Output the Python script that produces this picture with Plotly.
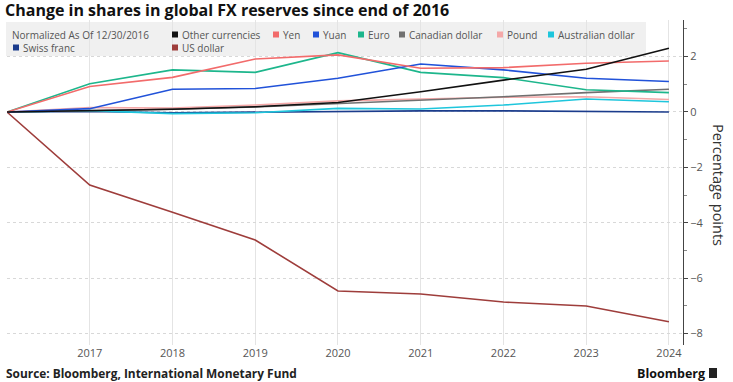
import plotly.graph_objects as go

years = [2016, 2017, 2018, 2019, 2020, 2021, 2022, 2023, 2024]

other_currencies = [0, 0.05, 0.10, 0.19, 0.34, 0.73, 1.15, 1.54, 2.30]
yen = [0, 0.92, 1.25, 1.91, 2.06, 1.58, 1.60, 1.76, 1.84]
yuan = [0, 0.12, 0.82, 0.85, 1.22, 1.73, 1.52, 1.22, 1.10]
euro = [0, 1.02, 1.52, 1.43, 2.14, 1.43, 1.24, 0.80, 0.70]
canadian_dollar = [0, 0.05, 0.10, 0.18, 0.30, 0.42, 0.55, 0.70, 0.82]
pound = [0, 0.16, 0.14, 0.25, 0.40, 0.46, 0.53, 0.55, 0.45]
australian_dollar = [0, 0.05, -0.06, -0.03, 0.13, 0.11, 0.25, 0.47, 0.37]
swiss_franc = [0, 0.02, -0.03, 0.0, 0.02, 0.04, 0.04, 0.03, 0.0]
us_dollar = [0, -2.64, -3.62, -4.62, -6.46, -6.57, -6.86, -7.00, -7.57]

series_names = ["Other currencies", "Yen", "Yuan", "Euro", "Canadian dollar",
                "Pound", "Australian dollar", "Swiss franc", "US dollar"]
series_values = [other_currencies, yen, yuan, euro, canadian_dollar,
                 pound, australian_dollar, swiss_franc, us_dollar]
series_colors = ["#111111", "#f26b6b", "#2152d9", "#1db68c", "#707070",
                 "#f4a8a8", "#1ec6dc", "#1b3c8c", "#9e3d3b"]

x_ticks = [2017, 2018, 2019, 2020, 2021, 2022, 2023, 2024]
y_ticks = [2, 0, -2, -4, -6, -8]

fig = go.Figure()
order = [8, 7, 6, 5, 4, 3, 2, 1, 0]
for i in order:
    fig.add_trace(go.Scatter(x=years, y=series_values[i], mode="lines",
                             name=series_names[i],
                             line=dict(color=series_colors[i], width=1.6),
                             showlegend=False, hoverinfo="skip"))

fig.update_layout(
    width=733, height=382,
    margin=dict(l=7, r=50, t=20, b=37, autoexpand=False),
    paper_bgcolor="white", plot_bgcolor="white",
    font=dict(family="Open Sans", color="#333"),
    showlegend=False,
)
fig.update_xaxes(range=[2016, 2024.17], tickvals=x_ticks,
                 ticktext=[str(v) for v in x_ticks],
                 showgrid=True, gridcolor="#e4e4e4", gridwidth=1,
                 zeroline=False, showline=False, ticks="",
                 tickfont=dict(size=11, color="#555"))
fig.update_yaxes(range=[-8.41, 3.32], side="right", tickvals=y_ticks,
                 showgrid=True, gridcolor="#d8d8d8", griddash="dot",
                 zeroline=False, showline=True, linecolor="#444", linewidth=1,
                 ticks="outside", ticklen=4, tickcolor="#444",
                 minor=dict(dtick=1, ticks="outside", ticklen=3, tickcolor="#888", showgrid=False),
                 tickfont=dict(size=11, color="#555"))


def px_x(x):
    return (x - 7) / 676


def px_y(y):
    return (345 - y) / 325


# y axis title (reads top to bottom)
fig.add_annotation(text="Percentage points", x=px_x(719), y=px_y(185),
                   xref="paper", yref="paper", xanchor="center", yanchor="middle",
                   textangle=90, showarrow=False, font=dict(size=14.5, color="#333"))

# legend background box
fig.add_shape(type="rect", xref="paper", yref="paper",
              x0=px_x(6), x1=px_x(646), y0=px_y(56), y1=px_y(22),
              fillcolor="#f0f0f0", line=dict(width=0), layer="below")

fig.add_annotation(text="Normalized As Of 12/30/2016", x=px_x(10), y=px_y(34.5),
                   xref="paper", yref="paper", xanchor="left", yanchor="middle",
                   showarrow=False, font=dict(size=10, color="#555"))

legend_pos = {
    "Other currencies": (172, 34.5), "Yen": (273, 34.5), "Yuan": (313, 34.5),
    "Euro": (358, 34.5), "Canadian dollar": (399, 34.5), "Pound": (497, 34.5),
    "Australian dollar": (548, 34.5), "Swiss franc": (13, 47.5), "US dollar": (172, 47.5),
}
for name, col in zip(series_names, series_colors):
    lx, ly = legend_pos[name]
    fig.add_shape(type="rect", xref="paper", yref="paper",
                  x0=px_x(lx), x1=px_x(lx + 6), y0=px_y(ly + 3), y1=px_y(ly - 3),
                  fillcolor=col, line=dict(width=0))
    fig.add_annotation(text=name, x=px_x(lx + 8), y=px_y(ly),
                       xref="paper", yref="paper", xanchor="left", yanchor="middle",
                       showarrow=False, font=dict(size=10, color="#555"))

# title
fig.add_annotation(text="<b>Change in shares in global FX reserves since end of 2016</b>",
                   x=px_x(3), y=px_y(10), xref="paper", yref="paper",
                   xanchor="left", yanchor="middle", showarrow=False,
                   font=dict(size=16, color="#111", family="Open Sans"))
# source
fig.add_annotation(text="<b>Source: Bloomberg, International Monetary Fund</b>",
                   x=px_x(4), y=px_y(373), xref="paper", yref="paper",
                   xanchor="left", yanchor="middle", showarrow=False,
                   font=dict(size=11.9, color="#222", family="Open Sans"))
# Bloomberg logo text
fig.add_annotation(text="<b>Bloomberg</b>", x=px_x(707), y=px_y(373),
                   xref="paper", yref="paper", xanchor="right", yanchor="middle",
                   showarrow=False, font=dict(size=12.5, color="#111", family="Open Sans"))
fig.add_shape(type="rect", xref="paper", yref="paper",
              x0=px_x(709), x1=px_x(717), y0=px_y(378), y1=px_y(368),
              fillcolor="#222", line=dict(width=0))

fig.write_html("out.html", config={"displayModeBar": False},
               post_script="document.body.style.margin='0';")
